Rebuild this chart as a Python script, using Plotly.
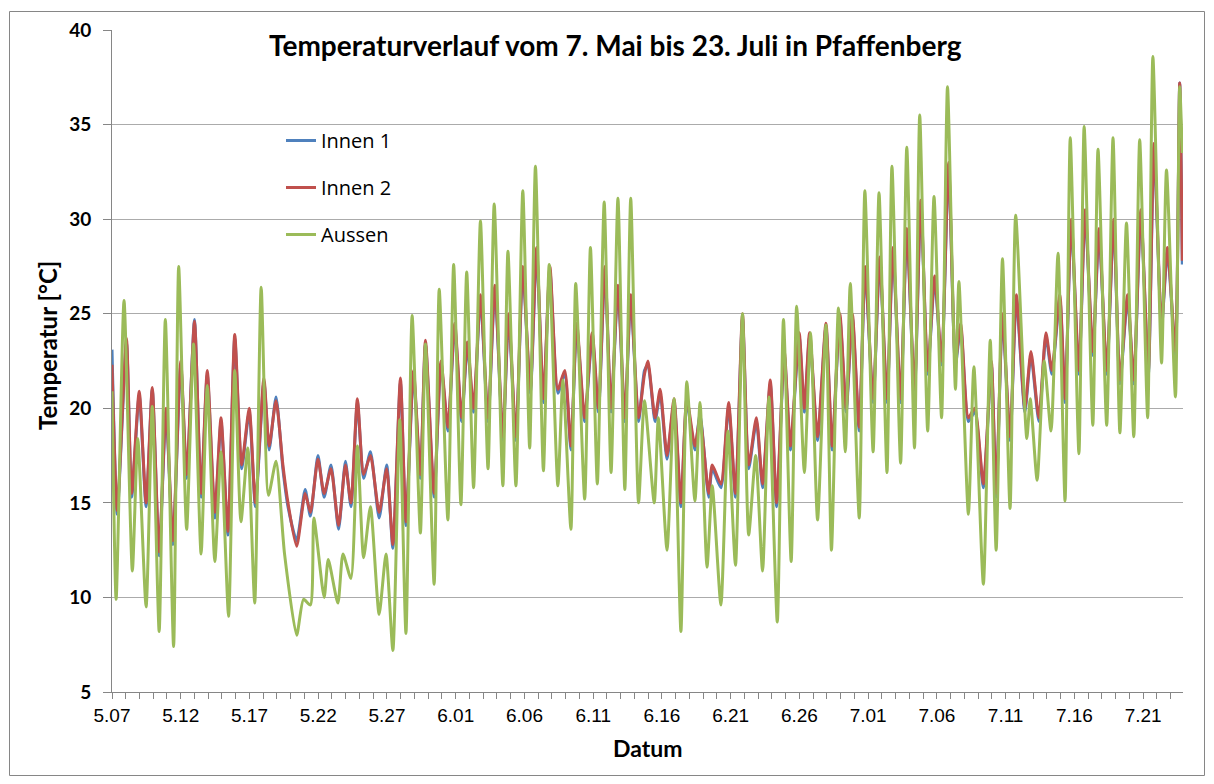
import datetime as dt
import plotly.graph_objects as go

# ---------------- data ----------------
# time in days since 7 May 00:00
aussen_t = [0.0, 0.3, 0.875, 1.48, 1.875, 2.48, 2.93, 3.43, 3.88, 4.48, 4.85, 5.43, 5.93, 6.48,
            6.93, 7.48, 7.93, 8.48, 8.93, 9.38, 9.88, 10.38, 10.85, 11.38, 11.93, 12.55, 13.43,
            13.93, 14.43, 14.68, 15.43, 15.73, 16.43, 16.8, 17.38, 17.85, 18.3, 18.8, 19.43,
            19.93, 20.43, 20.93, 21.38, 21.83, 22.43, 22.8, 23.43, 23.8, 24.43, 24.85, 25.38,
            25.8, 26.3, 26.8, 27.35, 27.8, 28.43, 28.8, 29.38, 29.88, 30.38, 30.8, 31.38, 31.8,
            32.43, 32.8, 33.38, 33.73, 34.38, 34.8, 35.3, 35.8, 36.3, 36.8, 37.3, 37.73, 38.3,
            38.73, 39.44, 39.74, 40.37, 40.88, 41.38, 41.81, 42.4, 42.77, 43.28, 43.66, 44.29,
            44.8, 45.35, 45.86, 46.31, 46.82, 47.32, 47.78, 48.39, 48.84, 49.4, 49.8, 50.36,
            50.81, 51.32, 51.93, 52.33, 52.84, 53.34, 53.7, 54.35, 54.76, 55.36, 55.79, 56.37,
            56.73, 57.36, 57.81, 58.37, 58.75, 59.33, 59.79, 60.34, 60.77, 61.35, 61.6, 62.29,
            62.69, 63.38, 63.88, 64.31, 64.77, 65.32, 65.73, 66.54, 66.79, 67.29, 67.8, 68.3,
            68.81, 69.32, 69.7, 70.33, 70.71, 71.34, 71.72, 72.35, 72.81, 73.31, 73.79, 74.32,
            74.75, 75.33, 75.71, 76.34, 76.7, 77.35, 77.66, 77.85]
aussen_v = [20.9, 9.9, 25.7, 11.4, 18.4, 9.5, 20.1, 8.2, 24.7, 7.4, 27.5, 13.6, 23.4, 12.3,
            21.2, 11.9, 17.7, 9.0, 22.0, 14.0, 17.9, 9.7, 26.4, 15.4, 17.2, 12.3, 8.0,
            9.9, 9.6, 14.2, 10.0, 12.0, 9.7, 12.3, 11.0, 18.0, 12.1, 14.8, 9.1,
            12.3, 7.2, 19.4, 8.1, 24.9, 13.4, 23.4, 10.7, 26.3, 14.1, 27.6, 14.9,
            27.2, 15.8, 29.9, 16.8, 30.8, 15.9, 28.3, 15.9, 31.5, 17.9, 32.8, 16.7, 27.6,
            15.9, 21.5, 13.6, 26.6, 15.2, 28.5, 16.0, 30.9, 16.6, 31.1, 15.7, 31.1, 15.0,
            20.4, 15.0, 19.5, 12.5, 20.5, 8.2, 21.4, 15.1, 20.3, 11.6, 15.9, 9.6,
            18.8, 11.7, 25.0, 13.3, 17.5, 11.4, 20.6, 8.7, 24.7, 11.9, 25.4, 16.6,
            24.0, 14.1, 24.4, 12.5, 25.3, 17.7, 26.6, 14.2, 31.5, 17.7, 31.4, 16.6,
            32.8, 17.1, 33.8, 17.9, 35.5, 18.8, 31.2, 19.5, 37.0, 21.0, 26.7, 14.4,
            22.2, 10.7, 23.6, 12.5, 27.9, 14.7, 30.2, 18.4, 20.5, 16.2, 22.5, 18.8,
            28.2, 15.1, 34.3, 17.6, 34.9, 19.1, 33.7, 19.1, 34.3, 18.7, 29.8, 18.5,
            34.2, 19.5, 38.6, 22.4, 32.6, 20.6, 37.0, 33.5]

innen_t = [0.0, 0.38, 1.05, 1.43, 1.98, 2.48, 2.93, 3.43, 3.93, 4.43, 5.0, 5.43, 6.0, 6.48,
           6.93, 7.48, 7.93, 8.43, 8.93, 9.43, 9.98, 10.43, 11.05, 11.43, 11.93, 12.43, 12.8,
           13.43, 14.05, 14.43, 14.98, 15.43, 15.93, 16.48, 16.98, 17.38, 17.85, 18.3, 18.8,
           19.43, 19.98, 20.43, 20.98, 21.38, 21.93, 22.43, 22.8, 23.43, 23.93, 24.43, 24.93,
           25.43, 25.85, 26.3, 26.8, 27.35, 27.85, 28.43, 28.85, 29.38, 29.88, 30.43, 30.88,
           31.38, 31.85, 32.43, 32.93, 33.38, 33.8, 34.38, 34.93, 35.38, 35.85, 36.3, 36.8,
           37.3, 37.73, 38.3, 38.73, 38.98, 39.5, 39.87, 40.37, 40.88, 41.38, 41.81, 42.4,
           42.77, 43.4, 43.66, 44.29, 44.85, 45.35, 45.86, 46.31, 46.87, 47.32, 47.88, 48.34,
           48.9, 49.35, 49.98, 50.36, 50.74, 51.32, 51.93, 52.38, 52.94, 53.4, 53.85, 54.35,
           54.78, 55.36, 55.84, 56.37, 56.8, 57.36, 57.81, 58.37, 58.83, 59.33, 59.84, 60.34,
           60.85, 61.35, 61.73, 62.29, 62.75, 63.38, 63.96, 64.31, 64.77, 65.32, 65.78, 66.4,
           66.84, 67.42, 67.93, 68.36, 68.94, 69.32, 69.77, 70.33, 70.78, 71.34, 71.79, 72.35,
           72.86, 73.31, 73.87, 74.32, 74.83, 75.38, 75.79, 76.34, 76.77, 77.35, 77.66, 77.85]
innen2_v = [22.3, 14.6, 23.7, 15.5, 20.9, 15.0, 21.1, 12.4, 20.0, 13.0, 22.5, 16.5, 24.6, 15.5,
            22.0, 14.5, 19.5, 13.5, 23.9, 17.0, 20.0, 15.0, 21.6, 18.0, 20.4, 17.0, 15.0,
            12.7, 15.5, 14.5, 17.3, 15.5, 16.8, 13.8, 17.0, 15.0, 20.5, 16.5, 17.5,
            14.5, 16.8, 12.8, 21.6, 14.0, 22.0, 16.5, 23.6, 15.5, 22.5, 19.0, 24.5,
            19.5, 23.5, 20.0, 26.0, 19.5, 26.5, 18.5, 25.0, 18.5, 27.5, 21.0, 28.5,
            20.5, 27.5, 21.0, 22.0, 18.0, 24.5, 19.5, 24.0, 20.0, 27.5, 20.0, 26.5,
            19.5, 26.0, 19.5, 21.8, 22.5, 19.5, 21.0, 17.5, 20.5, 15.0, 20.5, 18.0,
            19.5, 15.5, 17.0, 16.0, 20.3, 15.5, 25.0, 17.0, 19.5, 16.0, 21.5, 15.0,
            23.0, 18.0, 24.0, 20.0, 24.0, 18.5, 24.5, 18.0, 25.0, 20.0, 25.0, 19.0,
            27.5, 20.5, 28.0, 20.5, 28.5, 20.5, 29.5, 21.0, 31.0, 22.0, 27.0, 22.5,
            33.0, 22.5, 24.5, 19.5, 20.0, 16.0, 22.5, 15.5, 25.0, 18.5, 26.0, 20.0,
            23.0, 19.5, 24.0, 22.0, 26.0, 20.5, 30.0, 22.0, 30.5, 23.0, 29.5, 22.0,
            30.0, 21.5, 26.0, 21.5, 30.5, 22.0, 34.0, 24.5, 28.5, 23.0, 37.2, 27.8]
innen1_v = [23.1, 14.4, 23.5, 15.3, 20.7, 14.8, 21.0, 12.2, 19.8, 12.8, 22.3, 16.3, 24.7, 15.3,
            21.8, 14.2, 19.3, 13.3, 23.7, 16.8, 19.8, 14.8, 21.4, 17.8, 20.6, 16.8, 14.8,
            13.0, 15.7, 14.3, 17.5, 15.3, 17.0, 13.6, 17.2, 14.8, 20.3, 16.3, 17.7,
            14.2, 17.0, 12.6, 21.4, 13.8, 21.8, 16.3, 23.4, 15.3, 22.3, 18.8, 24.3,
            19.3, 23.3, 19.8, 25.8, 19.3, 26.3, 18.3, 24.8, 18.3, 27.3, 20.8, 28.3,
            20.3, 27.3, 20.8, 21.8, 17.8, 24.3, 19.3, 23.8, 19.8, 27.3, 19.8, 26.3,
            19.3, 25.8, 19.3, 22.0, 22.3, 19.3, 20.8, 17.3, 20.3, 14.8, 20.3, 17.8,
            19.7, 15.3, 16.8, 15.8, 20.1, 15.3, 24.8, 16.8, 19.3, 15.8, 21.3, 14.8,
            22.8, 17.8, 23.8, 19.8, 23.8, 18.3, 24.3, 17.8, 24.8, 19.8, 24.8, 18.8,
            27.3, 20.3, 27.8, 20.3, 28.3, 20.3, 29.3, 20.8, 30.8, 21.8, 26.8, 22.3,
            32.8, 22.3, 24.3, 19.3, 19.8, 15.8, 22.3, 15.3, 24.8, 18.3, 25.8, 19.8,
            22.8, 19.3, 23.8, 21.8, 25.8, 20.3, 29.8, 21.8, 30.3, 22.8, 29.3, 21.8,
            29.8, 21.3, 25.8, 21.3, 30.3, 21.8, 33.8, 24.3, 28.3, 22.8, 37.2, 27.6]

series_names = ["Innen 1", "Innen 2", "Aussen"]
series_colors = ["#4F81BD", "#C0504D", "#9BBB59"]

title_text = "Temperaturverlauf vom 7. Mai bis 23. Juli in Pfaffenberg"
x_title = "Datum"
y_title = "Temperatur [°C]"

start = dt.datetime(2013, 5, 7)
end_day = 77.9


def to_dates(days):
    return [start + dt.timedelta(days=d) for d in days]


fig = go.Figure()
data_sets = [(innen_t, innen1_v), (innen_t, innen2_v), (aussen_t, aussen_v)]
for (t, v), name, col in zip(data_sets, series_names, series_colors):
    fig.add_trace(go.Scatter(
        x=to_dates(t), y=v, mode="lines", name=name, legendgroup=name,
        line=dict(color=col, width=3, shape="spline", smoothing=0.6),
    ))

# page offset of the figure (default body margin of the page)
OFF = 8
W, H = 1214 - OFF, 784 - OFF
PL, PR, PT, PB = 112, 1183, 30, 692          # plot area in page pixels
L, R, T, B = PL - OFF, OFF + W - PR, PT - OFF, OFF + H - PB
pw, ph = W - L - R, H - T - B


def px_x(x):
    return (x - OFF - L) / pw


def px_y(y):
    return (OFF + H - B - y) / ph


axis_grey = "#868686"
fig.update_layout(
    width=W, height=H,
    margin=dict(l=L, r=R, t=T, b=B, pad=0, autoexpand=False),
    paper_bgcolor="white", plot_bgcolor="white",
    showlegend=True,
    legend=dict(
        x=px_x(281), y=px_y(121), xanchor="left", yanchor="top",
        bgcolor="rgba(0,0,0,0)", font=dict(family="Open Sans", size=20, color="#000"),
        tracegroupgap=18, itemwidth=30, traceorder="grouped",
    ),
    xaxis=dict(
        type="date",
        range=[start, start + dt.timedelta(days=end_day)],
        tick0=start, dtick=5 * 86400000, tickformat="%-m.%d",
        ticks="outside", ticklen=6, tickcolor=axis_grey,
        showline=True, linecolor=axis_grey, linewidth=1,
        showgrid=False, zeroline=False,
        tickfont=dict(family="Liberation Sans, Arial", size=19, color="#000"),
        minor=dict(dtick=86400000, tick0=start, ticks="outside", ticklen=6,
                   tickcolor=axis_grey, showgrid=False),
    ),
    yaxis=dict(
        range=[5, 40], dtick=5, tick0=5,
        ticks="outside", ticklen=8, tickcolor=axis_grey,
        showline=True, linecolor=axis_grey, linewidth=1,
        showgrid=True, gridcolor="#ABABAB", gridwidth=1, zeroline=False,
        tickfont=dict(family="Lato", size=19, color="#000", weight="bold"),
        ticklabelstandoff=8,
    ),
    annotations=[
        dict(text=f"<b>{title_text}</b>", x=px_x(615), y=px_y(45), xref="paper", yref="paper",
             showarrow=False, xanchor="center", yanchor="middle",
             font=dict(family="Lato", size=28, color="#000")),
        dict(text=f"<b>{x_title}</b>", x=px_x(648), y=px_y(748), xref="paper", yref="paper",
             showarrow=False, xanchor="center", yanchor="middle",
             font=dict(family="Lato", size=23, color="#000")),
        dict(text=f"<b>{y_title}</b>", x=px_x(47), y=px_y(346), xref="paper", yref="paper",
             showarrow=False, xanchor="center", yanchor="middle", textangle=-90,
             font=dict(family="Lato", size=24, color="#000")),
    ],
    shapes=[
        dict(type="rect", xref="paper", yref="paper",
             x0=px_x(9.5), x1=px_x(1204.5), y0=px_y(11.5), y1=px_y(775.5),
             line=dict(color=axis_grey, width=1), fillcolor="rgba(0,0,0,0)", layer="below"),
    ],
)

fig.write_html("out.html")
